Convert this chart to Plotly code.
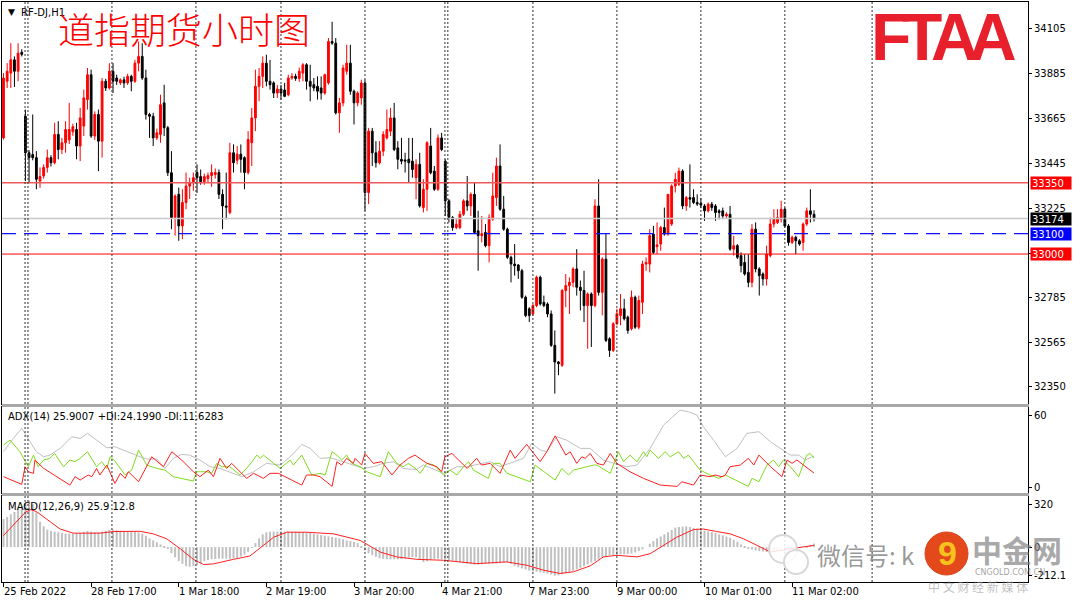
import plotly.graph_objects as go

# ---- price data (H1 bars) ----
opens = [33570,33848,33888,33953,33897,33990,33676,33497,33488,33473,
         33358,33383,33425,33473,33448,33587,33513,33546,33560,33600,
         33611,33530,33628,33758,33880,33579,33685,33554,33848,33815,
         33897,33864,33840,33855,33840,33872,33848,33937,33970,33864,
         33685,33676,33570,33587,33742,33620,33399,33179,33293,33138,
         33253,33334,33350,33400,33380,33355,33370,33385,33390,33400,
         33293,33236,33204,33497,33460,33490,33473,33400,33546,33668,
         33823,33872,33937,33848,33840,33790,33810,33805,33782,33864,
         33872,33862,33888,33929,33848,33831,33823,33815,33790,33840,
         34043,34035,33693,33742,33897,33937,33799,33742,33766,33839,
         33302,33603,33497,33448,33505,33570,33603,33668,33521,33465,
         33462,33465,33456,33375,33440,33228,33318,33530,33407,33318,
         33570,33456,33261,33179,33130,33130,33195,33261,33236,33293,
         33114,33090,33106,33041,33171,33277,33432,33220,33122,32984,
         32951,32946,32918,32788,32731,32706,32747,32886,32763,32755,
         32706,32552,32470,32454,32821,32845,32861,32927,32837,32821,
         32747,32804,32747,33236,32812,32975,32584,32527,32658,32698,
         32731,32690,32633,32788,32641,32763,32951,32951,33098,33036,
         33049,33130,33098,33147,33334,33342,33407,33236,33277,33277,
         33253,33250,33236,33212,33245,33236,33212,33212,33187,33195,
         33024,33041,32992,32959,32910,32861,33122,32927,32902,32878,
         32992,33147,33155,33171,33220,33138,33057,33082,33065,33057,
         33147,33212,33195]
highs = [33888,33937,34035,33970,34035,34005,33709,33510,33685,33505,
         33425,33440,33513,33485,33644,33652,33570,33652,33742,33640,
         33644,33717,33807,33913,33905,33700,33709,33864,33860,33937,
         33937,33880,33862,33870,33885,33880,33953,34043,34035,33905,
         33693,33693,33615,33782,33831,33628,33505,33293,33326,33318,
         33400,33375,33400,33440,33415,33395,33400,33440,33420,33415,
         33318,33400,33546,33538,33530,33538,33480,33603,33717,33905,
         33913,33970,33978,33953,33848,33830,33830,33840,33880,33888,
         33885,33915,33937,33937,33929,33864,33872,33872,33885,34060,
         34140,34060,33766,33929,34027,34027,33807,33799,33856,33856,
         33619,33619,33554,33554,33603,33709,33717,33742,33554,33570,
         33497,33570,33570,33465,33497,33367,33554,33619,33432,33587,
         33595,33465,33269,33187,33171,33212,33269,33383,33302,33350,
         33212,33187,33147,33195,33399,33473,33538,33285,33130,32992,
         33049,32951,32927,32796,32739,32755,32894,32894,32796,32763,
         32723,32625,32475,32829,32902,32886,32935,33024,32870,32918,
         32812,32812,33269,33367,32984,33098,32592,32666,32731,32804,
         32780,32698,32821,32796,32796,32967,32984,33122,33138,33155,
         33138,33228,33293,33342,33399,33424,33416,33285,33440,33318,
         33293,33275,33245,33253,33256,33245,33220,33228,33205,33236,
         33090,33049,33008,32999,32999,33147,33155,32935,32910,33041,
         33179,33220,33220,33261,33228,33147,33090,33090,33073,33155,
         33228,33318,33215]
lows = [33562,33815,33815,33820,33848,33970,33358,33350,33460,33318,
        33325,33370,33400,33430,33440,33465,33490,33497,33540,33580,
        33465,33456,33579,33709,33570,33560,33407,33473,33800,33807,
        33790,33830,33830,33815,33830,33799,33840,33897,33855,33660,
        33570,33530,33560,33546,33579,33383,33122,33090,33065,33073,
        33220,33270,33310,33300,33340,33340,33350,33330,33370,33270,
        33122,33170,33195,33400,33440,33400,33318,33390,33432,33603,
        33750,33815,33823,33807,33766,33766,33758,33770,33774,33855,
        33850,33845,33848,33807,33750,33799,33758,33758,33782,33831,
        34027,33685,33595,33725,33880,33782,33636,33725,33733,33212,
        33245,33432,33424,33440,33481,33562,33579,33505,33416,33440,
        33400,33350,33375,33269,33228,33204,33212,33391,33310,33310,
        33505,33187,33155,33114,33122,33122,33187,33212,33187,33098,
        32918,33057,33033,32959,33163,33236,33212,33114,32976,32861,
        32894,32878,32780,32690,32666,32698,32739,32747,32739,32690,
        32544,32315,32405,32446,32739,32706,32837,32796,32723,32666,
        32535,32544,32739,32796,32699,32568,32495,32519,32650,32650,
        32674,32609,32625,32633,32630,32706,32918,32910,33000,33000,
        33016,33090,33090,33138,33302,33334,33220,33212,33228,33245,
        33236,33225,33163,33204,33212,33163,33170,33171,33175,33016,
        32992,32976,32910,32894,32837,32837,32910,32796,32845,32845,
        32984,33130,33147,33155,33130,33041,33049,33000,33041,33016,
        33138,33155,33160]
closes = [33864,33897,33953,33897,33986,33980,33497,33473,33473,33367,
          33380,33425,33473,33448,33587,33513,33546,33611,33611,33625,
          33530,33668,33766,33880,33579,33685,33554,33848,33815,33897,
          33848,33848,33855,33840,33872,33848,33937,33970,33864,33685,
          33676,33570,33595,33733,33620,33399,33179,33285,33138,33253,
          33334,33350,33375,33375,33355,33380,33385,33400,33400,33293,
          33236,33230,33497,33448,33490,33465,33400,33562,33668,33823,
          33872,33937,33848,33831,33790,33810,33790,33774,33864,33872,
          33862,33897,33929,33848,33823,33815,33799,33790,33880,34043,
          34035,33693,33742,33913,33937,33799,33742,33790,33839,33302,
          33603,33497,33448,33505,33587,33611,33668,33513,33465,33456,
          33456,33448,33415,33440,33236,33318,33546,33399,33318,33570,
          33513,33261,33179,33130,33146,33195,33261,33236,33293,33106,
          33090,33100,33041,33179,33285,33432,33220,33122,32984,32951,
          32943,32918,32788,32698,32698,32747,32886,32755,32747,32706,
          32552,32470,32462,32821,32845,32861,32927,32837,32821,32747,
          32804,32747,33236,32812,32975,32576,32527,32658,32707,32731,
          32682,32625,32788,32641,32772,32951,32959,33090,33008,33045,
          33130,33098,33293,33334,33367,33407,33236,33277,33269,33253,
          33245,33240,33212,33245,33228,33204,33204,33187,33195,33024,
          33041,32984,32943,32902,32861,33122,32927,32894,32878,33000,
          33147,33171,33179,33220,33138,33057,33082,33065,33049,33147,
          33212,33195,33174]

# ---- ADX(14): main (gray), +DI (green), -DI (red) read at turning points ----
adx_x = [0,2.7,5,6.8,9,11,12.7,15.5,18.7,21,23,25.5,28.3,30.5,33.7,37.4,39.2,42,44.2,46.5,
         48.8,51,53.8,56.6,59.3,63,65.3,68.5,72,75.8,78.5,81.7,84,86.7,89.5,93,95.8,98.6,101.3,104,
         106.8,109.5,113,115,120.5,124.2,126.9,129.6,133.3,136,139.7,142.4,144.7,147,148.8,151.5,154.2,158,160.7,164.3,
         167.1,170.7,173.5,177.1,180.8,185.3,187.6,189.9,191.7,194.5,197.7,200.9,203.6,206.9,210.1,212.8,215.5,217.8,219.6,222]
adx_v = [29.4,40.5,48.9,40.5,29.4,25.2,26.6,32.2,41.9,40.5,44.7,39.1,32.7,33.6,29.4,25.2,23.3,23.3,15.5,23.9,
         27.2,26.6,22.5,16.9,15.5,11.4,8.6,12.7,19.7,18.3,25.2,35.5,32.2,23.9,24.4,21.1,18.3,15.5,16.9,19.7,
         21.1,15.5,14.5,18.3,11.4,16.9,16.9,18.9,21.1,16.9,21.1,23.9,36.4,30.8,29.4,41.9,39.1,32.2,32.2,22.5,
         19.7,16.9,18.3,32.2,51.6,64.1,62.7,60,50.2,39.1,25.2,32.2,44.7,46.1,37.7,32.2,26.6,26.6,22.5,25.9]
pdi_x = [0,1.8,4.5,6.8,8.2,9.5,11,12.7,14,16.4,18.2,19.6,21,23,25.5,26.9,28.3,29.2,30.5,33.3,
         35.1,37,39.2,42,44.2,46.5,52,52.9,55.7,57,58.4,59.8,62,64.8,67,69.4,70.3,71.2,74,75.8,
         78.5,79.4,81.7,84.4,86.7,88.1,90,91.3,92.6,94,95.4,97.7,99.5,103.2,105.4,107.7,109.5,110.9,113,
         114.1,116,117.9,120.5,122.3,124.2,126,127.4,128.7,132.8,134.2,136,137.9,144.3,145.6,151.1,152.9,154.8,156.1,161.6,
         162.5,166.2,168.4,169.8,171.6,173.5,175.3,176.2,177.1,179.4,181.2,182.6,184.9,186.3,187.6,190.8,193.5,195.9,197.7,204,
         205,206.9,209.1,210.9,212.3,213.6,215.5,217.8,220,220.9,222]
pdi_v = [35,39.1,29.4,16.9,26.6,16.9,22.5,23.9,28,16.9,22.5,21.1,23.9,29.4,16.9,21.1,15.5,25.2,21.7,10,
         14.1,30.8,18.3,15.5,14.1,8.6,5,12.7,12.7,11.4,19.7,16.9,16.9,10,16.9,26.6,23.9,26.6,19.7,15.5,
         22.5,18.3,26.6,10,11.4,10,29.4,26.6,22.5,26.6,19.7,16.9,12.7,8.6,29.4,19.7,16.9,19.7,15,
         11.4,19.7,18.3,10,14.1,10,16.9,21.1,14.1,7.2,19.7,19.7,11.4,4.4,18.3,5.8,15.5,10,14.1,18.3,
         18.3,11.4,29.4,21.1,26.6,21.1,29.4,25.2,30.8,23.9,29.4,25.2,29.4,23.9,26.6,14.1,10,7.2,10,0.5,
         7.2,4.4,18.3,22.5,16.9,22.5,16.9,8.6,26.6,28,24.2]
mdi_x = [0,5,5.9,6.8,8.2,8.6,11,18.2,19.6,21,23.2,24.2,25.5,26.4,28.3,30.5,32,33.3,34.2,35.6,
         37,40.6,43.8,46.1,48.8,52,53.8,56.1,57.5,59.3,61.1,62.5,63.9,66.6,68.5,71.2,73,75.3,81.7,83,
         84.9,86.7,90,91.3,92.6,94,95.8,96.3,98.1,99,101.3,103.6,106.4,108.6,110.9,112.7,
         116,118.7,120,120.9,122.8,127,129.6,130.9,133.3,136,138.8,140.1,143.3,147,148.8,151.1,154,155.2,157,158.4,
         159.3,160.7,162.5,164.3,166.2,168,171.6,175.3,179.9,184.5,185.8,187.6,189,190.8,193.5,194.9,196.8,197.7,199,201.8,
         204,205.5,206.9,210.1,213.2,214.6,216,217.3,222]
mdi_v = [8.6,2.2,16.9,12.7,11.4,22.5,15.5,1.6,8.6,5.8,10,8.6,15.5,10,18.3,3,11.4,7.2,12.7,8.6,
         4.4,25.2,16.9,29.4,22.5,12.7,8.6,14.1,8.6,23.9,15.5,19.7,15.5,7.2,11.4,7.2,11.4,11.4,1.6,10,
         10,8.6,0.5,21.1,18.3,23.9,19.7,23.9,18.3,28,19.7,21.1,10,18.3,23.9,26.6,
         19.7,16.9,12.7,25.2,28,15.5,23.9,18.3,19.7,11.4,30.8,23.9,35.5,21.1,29.4,42.7,26.6,29.4,19.7,25.2,
         23.9,28,19.7,18.3,28,19.7,12.7,7.2,1.6,0.5,4.4,3,1.6,10,8.6,10,8.6,10,16.9,18.3,
         23.9,18.3,26.6,16.9,8.6,22.5,19.7,22.5,11.6]

# ---- MACD(12,26,9): main as histogram, signal as line ----
macd_main = [209,225,245,262,285,305,330,345,320,260,
             190,155,130,120,115,110,105,100,100,100,
             102,106,115,120,116,112,110,115,122,128,
             130,126,123,122,120,118,116,110,100,85,
             65,50,35,20,5,-15,-45,-75,-105,-125,
             -142,-147,-142,-135,-120,-105,-96,-90,-88,-86,
             -86,-86,-86,-85,-80,-70,-55,-35,-5,30,
             65,95,110,115,116,117,117,116,116,116,
             115,114,113,111,105,100,95,90,85,80,
             75,70,65,58,50,45,38,30,5,-25,
             -45,-60,-72,-83,-88,-90,-91,-91,-91,-90,
             -85,-78,-74,-75,-95,-110,-105,-95,-88,-86,
             -90,-95,-98,-102,-108,-114,-120,-125,-128,-130,
             -130,-128,-126,-124,-123,-123,-120,-116,-112,-125,
             -140,-150,-159,-167,-175,-180,-184,-188,-192,-196,
             -204,-213,-210,-203,-196,-188,-176,-165,-154,-142,
             -128,-115,-105,-90,-75,-68,-63,-60,-56,-54,
             -52,-50,-47,-40,-30,-17,0,25,45,65,
             80,95,110,128,145,150,153,155,150,142,
             138,132,125,118,113,105,95,88,78,70,
             55,40,20,5,-10,-18,-25,-30,-33,-36,
             -37,-35,-30,-25,-18,-12,-8,-4,-2,0,
             8,18,26]
sig_x = [0,3,6,7.5,9,11.8,15.5,19.1,26.4,30.1,37.4,41,44.7,48.4,52,54.8,57.5,63,67.5,71.2,
         74,77.6,83,90.4,97.7,103.2,107.7,113.2,120.5,129.6,137.8,143.3,147.9,152.4,156.1,160.7,164.3,168,173.5,177.1,
         180.8,184.4,189,191.7,195.4,199,202.7,207.3,210.1,215.5,219.2,222]
sig_v = [86,170,260,280,265,209,135,104,104,116,118,99,62,-12,-91,-130,-125,-91,-66,13,
         74,111,111,99,50,-37,-73,-91,-98,-123,-110,-135,-172,-196,-184,-140,-73,-61,-73,-49,
         13,74,131,135,116,99,62,0,-37,-12,0,12.8]

# day separators (bar positions) and time labels
separators = [5.9,6.7,29.7,52.7,76,99,120.9,121.7,145,168,191,214,237.9]
time_ticks = [0,24,48,72,96,120,144,168,192,216]
time_labels = ["25 Feb 2022","28 Feb 17:00","1 Mar 18:00","2 Mar 19:00","3 Mar 20:00",
               "4 Mar 21:00","7 Mar 23:00","9 Mar 00:00","10 Mar 01:00","11 Mar 02:00"]
price_ticks = [34105,33885,33665,33445,33225,33005,32785,32565,32350]
levels = [(33350,"#f05a5a","solid",1.6),(33174,"#c8c8c8","solid",1.5),
          (33100,"#1010ff","14px,8px",1.2),(33000,"#ff0000","solid",1)]
level_boxes = [(33350,"#ff0000"),(33174,"#000000"),(33100,"#0000ff"),(33000,"#ff0000")]
logo_letters = ["F","T","A","A"]

W, H = 1080, 603
L, R, T, B = 2, 52, 2, 21
PH = H - T - B


def px(x):
    return (x - L) / (W - L - R)


def py(y):
    return (H - B - y) / PH


bars = list(range(len(opens)))
xr = [-0.41, 280.6]
font = "DejaVu Sans"

fig = go.Figure()
fig.add_trace(go.Candlestick(
    x=bars, open=opens, high=highs, low=lows, close=closes,
    increasing=dict(line=dict(color="#ff0000", width=1), fillcolor="#ff0000"),
    decreasing=dict(line=dict(color="#000000", width=1), fillcolor="#000000"),
    whiskerwidth=0, xaxis="x", yaxis="y", hoverinfo="skip"))

fig.add_trace(go.Scatter(x=adx_x, y=adx_v, mode="lines", line=dict(color="#c0c0c0", width=1),
                         xaxis="x2", yaxis="y2"))
fig.add_trace(go.Scatter(x=pdi_x, y=pdi_v, mode="lines", line=dict(color="#7fdc1e", width=1),
                         xaxis="x2", yaxis="y2"))
fig.add_trace(go.Scatter(x=mdi_x, y=mdi_v, mode="lines", line=dict(color="#ff2020", width=1),
                         xaxis="x2", yaxis="y2"))

fig.add_trace(go.Bar(x=bars, y=macd_main, width=0.55, marker=dict(color="#c0c0c0", line=dict(width=0)),
                     xaxis="x3", yaxis="y3"))
fig.add_trace(go.Scatter(x=sig_x, y=sig_v, mode="lines", line=dict(color="#ff2020", width=1),
                         xaxis="x3", yaxis="y3"))

axis_common = dict(showgrid=False, zeroline=False, showline=True, mirror=True,
                   linecolor="#000000", linewidth=1)
tickfont = dict(family=font, size=10, color="#000000")

shapes = []
for lv, col, dash, wd in levels:
    shapes.append(dict(type="line", xref="paper", yref="y", x0=0, x1=1, y0=lv, y1=lv,
                       line=dict(color=col, width=wd, dash=dash)))
for s in separators:
    for xa, ya in [("x", "y domain"), ("x2", "y2 domain"), ("x3", "y3 domain")]:
        shapes.append(dict(type="line", xref=xa, yref=ya, x0=s, x1=s, y0=0, y1=1,
                           line=dict(color="#303030", width=1, dash="2px,2px")))
# panel separators
for y0, y1 in [(404, 407), (493, 496)]:
    shapes.append(dict(type="rect", xref="paper", yref="paper", x0=0, x1=px(1029), y0=py(y1), y1=py(y0),
                       fillcolor="#a8a8a8", line=dict(width=0)))
# watermark icons
shapes.append(dict(type="circle", xref="paper", yref="paper", x0=px(769), x1=px(797), y0=py(563), y1=py(535),
                   fillcolor="rgba(255,255,255,0.85)", line=dict(color="#d8d8d8", width=2)))
shapes.append(dict(type="circle", xref="paper", yref="paper", x0=px(784), x1=px(808), y0=py(574), y1=py(550),
                   fillcolor="rgba(255,255,255,0.85)", line=dict(color="#d8d8d8", width=2)))
shapes.append(dict(type="circle", xref="paper", yref="paper", x0=px(925), x1=px(968), y0=py(575), y1=py(532),
                   fillcolor="#e4491c", line=dict(color="#d8401a", width=1)))

ann = []
ann.append(dict(text="▼", x=px(6), y=py(12), xref="paper", yref="paper", xanchor="left", yanchor="middle",
                showarrow=False, font=dict(family=font, size=9, color="#000000")))
ann.append(dict(text="RF-DJ,H1", x=px(19), y=py(12), xref="paper", yref="paper", xanchor="left",
                yanchor="middle", showarrow=False, font=dict(family=font, size=10, color="#000000")))
ann.append(dict(text="道指期货小时图", x=px(56), y=py(28), xref="paper", yref="paper", xanchor="left",
                yanchor="middle", showarrow=False,
                font=dict(family="Noto Sans CJK SC", size=36, color="#ff0000", weight=300)))
# FTAA logo, letters set tight like the original mark
for ch, cx in zip(logo_letters, [891, 922, 955, 993]):
    ann.append(dict(text=ch, x=px(cx), y=py(37), xref="paper", yref="paper", xanchor="center",
                    yanchor="middle", showarrow=False,
                    font=dict(family="Liberation Sans", size=66, color="#e8202c", weight=700)))
ann.append(dict(text="ADX(14) 25.9007 +DI:24.1990 -DI:11.6283", x=px(6), y=py(416), xref="paper", yref="paper",
                xanchor="left", yanchor="middle", showarrow=False, font=tickfont))
ann.append(dict(text="MACD(12,26,9) 25.9 12.8", x=px(6), y=py(506), xref="paper", yref="paper",
                xanchor="left", yanchor="middle", showarrow=False, font=tickfont))
for t, lab in zip(time_ticks, time_labels):
    ann.append(dict(text=lab, x=t, y=py(591), xref="x3", yref="paper", xanchor="left", yanchor="middle",
                    showarrow=False, xshift=-2, font=tickfont))
for lv, col in level_boxes:
    ann.append(dict(text=str(lv), x=px(1030), y=lv, xref="paper", yref="y", xanchor="left", yanchor="middle",
                    showarrow=False, bgcolor=col, width=38, height=10, align="left", borderpad=1,
                    font=dict(family=font, size=10, color="#ffffff")))
# watermark text
ann.append(dict(text="微信号: k", x=px(815), y=py(554), xref="paper", yref="paper", xanchor="left",
                yanchor="middle", showarrow=False, font=dict(family="Noto Sans CJK SC", size=24, color="rgba(120,120,120,0.75)")))
ann.append(dict(text="9", x=px(947), y=py(553), xref="paper", yref="paper", xanchor="center",
                yanchor="middle", showarrow=False,
                font=dict(family="Liberation Sans", size=34, color="#f6c21c", weight=700)))
ann.append(dict(text="中金网", x=px(970), y=py(549), xref="paper", yref="paper", xanchor="left",
                yanchor="middle", showarrow=False,
                font=dict(family="Noto Sans CJK SC", size=30, color="rgba(130,130,130,0.7)", weight=700)))
ann.append(dict(text="CNGOLD.COM.CN", x=px(973), y=py(572), xref="paper", yref="paper", xanchor="left",
                yanchor="middle", showarrow=False, font=dict(family=font, size=8, color="rgba(120,120,120,0.7)")))
ann.append(dict(text="中 文 财 经 新 媒 体", x=px(926), y=py(586), xref="paper", yref="paper", xanchor="left",
                yanchor="middle", showarrow=False, font=dict(family="Noto Sans CJK SC", size=12, color="rgba(150,150,150,0.6)")))

fig.update_layout(
    width=W, height=H, margin=dict(l=L, r=R, t=T, b=B),
    paper_bgcolor="#ffffff", plot_bgcolor="#ffffff",
    showlegend=False, hovermode=False,
    xaxis=dict(domain=[0, 1], anchor="y", range=xr, showticklabels=False, ticks="",
               rangeslider=dict(visible=False), **axis_common),
    xaxis2=dict(domain=[0, 1], anchor="y2", range=xr, matches="x", showticklabels=False, ticks="",
                **axis_common),
    xaxis3=dict(domain=[0, 1], anchor="y3", range=xr, matches="x", showticklabels=False,
                ticks="outside", ticklen=4, tickcolor="#000000", tickmode="array", tickvals=time_ticks,
                **axis_common),
    yaxis=dict(domain=[py(404), 1], side="right", range=[32264, 34237], tickmode="array",
               tickvals=price_ticks, ticktext=[str(v) for v in price_ticks], ticks="outside", ticklen=3,
               tickcolor="#000000", tickfont=tickfont, **axis_common),
    yaxis2=dict(domain=[py(493), py(407)], side="right", range=[-5, 66.7], tickmode="array",
                tickvals=[60, 0], ticktext=["60", "0"], ticks="outside", ticklen=3, tickcolor="#000000",
                tickfont=tickfont, **axis_common),
    yaxis3=dict(domain=[0, py(496)], side="right", range=[-260, 381], tickmode="array",
                tickvals=[320, 0, -212.1], ticktext=["320", "0", "-212.1"], ticks="outside", ticklen=3,
                tickcolor="#000000", tickfont=tickfont, **axis_common),
    shapes=shapes, annotations=ann,
)

# page body has a default 8px margin; drop it so the figure sits at the window origin
fig.write_html("out.html", config={"displayModeBar": False},
               post_script="document.body.style.margin='0px';")
